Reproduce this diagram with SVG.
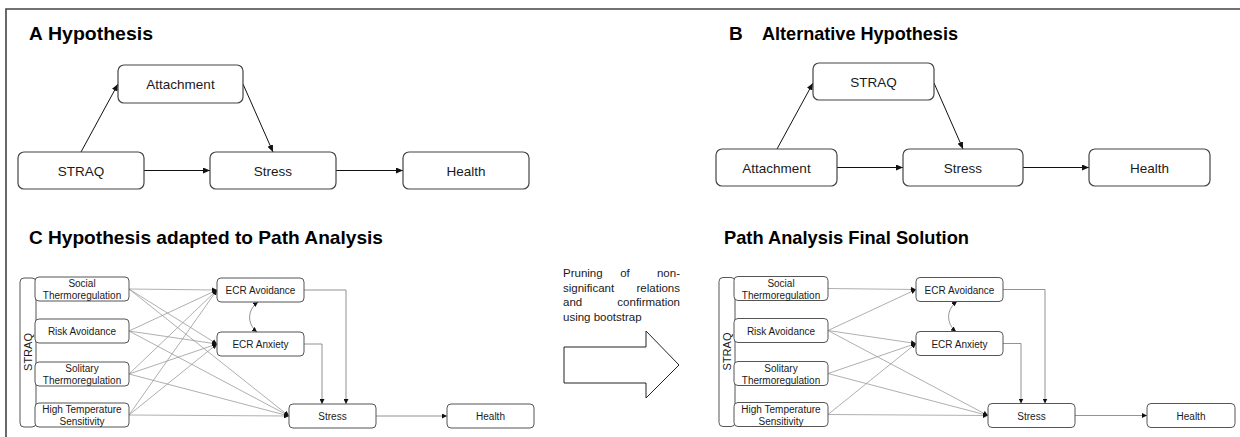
<svg xmlns="http://www.w3.org/2000/svg" width="1240" height="437" viewBox="0 0 1240 437">
<style>
text{font-family:"Liberation Sans",Arial,sans-serif;fill:#1a1a1a}
.title{font-weight:bold;font-size:19px;fill:#000}
.nb{fill:#fff;stroke:#444;stroke-width:1.2}
.nt{font-size:13.5px;text-anchor:middle}
.sb{fill:#fff;stroke:#555;stroke-width:1}
.st{font-size:10px;text-anchor:middle}
.ab{fill:none;stroke:#111;stroke-width:1}
.cl{fill:none;stroke:#9a9a9a;stroke-width:0.8;marker-end:url(#ms)}
.ce{fill:none;stroke:#777;stroke-width:0.8;marker-end:url(#ms)}
.mt{font-size:11.5px}
</style>
<defs>
<marker id="ma" markerUnits="userSpaceOnUse" markerWidth="7" markerHeight="6" refX="7" refY="3" orient="auto"><path d="M0,0 L7,3 L0,6 z" fill="#111"/></marker>
<marker id="ms" markerUnits="userSpaceOnUse" markerWidth="5" markerHeight="5" refX="5" refY="2.5" orient="auto-start-reverse"><path d="M0,0 L5,2.5 L0,5 z" fill="#111"/></marker>
</defs>
<rect width="1240" height="437" fill="#fff"/>
<path d="M6,437 V9 H1240" fill="none" stroke="#444" stroke-width="1.6"/>

<!-- Titles -->
<text class="title" x="29" y="40">A</text>
<text class="title" x="48" y="40" textLength="105" lengthAdjust="spacingAndGlyphs">Hypothesis</text>
<text class="title" x="729" y="40">B</text>
<text class="title" x="762" y="40" textLength="196" lengthAdjust="spacingAndGlyphs">Alternative Hypothesis</text>
<text class="title" x="29" y="244">C</text>
<text class="title" x="48" y="244" textLength="335" lengthAdjust="spacingAndGlyphs">Hypothesis adapted to Path Analysis</text>
<text class="title" x="724" y="244" textLength="245" lengthAdjust="spacingAndGlyphs">Path Analysis Final Solution</text>

<!-- Panel A -->
<g id="connectors-A">
<path class="ab" d="M81,152 L118,84" marker-end="url(#ma)"/>
<path class="ab" d="M243,84 L273,152" marker-end="url(#ma)"/>
<path class="ab" d="M144,170.5 H210" marker-end="url(#ma)"/>
<path class="ab" d="M336,170.5 H403" marker-end="url(#ma)"/>
</g>
<g id="a-attachment"><rect class="nb" x="118" y="65" width="125" height="38" rx="6"/><text class="nt" x="180.5" y="89">Attachment</text></g>
<g id="a-straq"><rect class="nb" x="18" y="152" width="126" height="37" rx="6"/><text class="nt" x="81" y="175.5">STRAQ</text></g>
<g id="a-stress"><rect class="nb" x="210" y="152" width="126" height="37" rx="6"/><text class="nt" x="273" y="175.5">Stress</text></g>
<g id="a-health"><rect class="nb" x="403" y="152" width="126" height="37" rx="6"/><text class="nt" x="466" y="175.5">Health</text></g>

<!-- Panel B -->
<g id="connectors-B">
<path class="ab" d="M777,149 L813,83" marker-end="url(#ma)"/>
<path class="ab" d="M934,83 L963,149" marker-end="url(#ma)"/>
<path class="ab" d="M837,167.5 H903" marker-end="url(#ma)"/>
<path class="ab" d="M1023,167.5 H1089" marker-end="url(#ma)"/>
</g>
<g id="b-straq"><rect class="nb" x="813" y="63" width="121" height="37" rx="6"/><text class="nt" x="873.5" y="86.5">STRAQ</text></g>
<g id="b-attachment"><rect class="nb" x="716" y="149" width="121" height="37" rx="6"/><text class="nt" x="776.5" y="172.5">Attachment</text></g>
<g id="b-stress"><rect class="nb" x="903" y="149" width="120" height="37" rx="6"/><text class="nt" x="963" y="172.5">Stress</text></g>
<g id="b-health"><rect class="nb" x="1089" y="149" width="121" height="37" rx="6"/><text class="nt" x="1149.5" y="172.5">Health</text></g>

<!-- Panel C -->
<g id="connectors-C">
<path class="cl" d="M129,289 L217,290"/>
<path class="cl" d="M129,289 L217,344"/>
<path class="cl" d="M129,289 L289,416"/>
<path class="cl" d="M129,331 L217,290"/>
<path class="cl" d="M129,331 L217,344"/>
<path class="cl" d="M129,331 L289,416"/>
<path class="cl" d="M129,374 L217,290"/>
<path class="cl" d="M129,374 L217,344"/>
<path class="cl" d="M129,374 L289,416"/>
<path class="cl" d="M129,415 L217,290"/>
<path class="cl" d="M129,415 L217,344"/>
<path class="cl" d="M129,415 L289,416"/>
<path class="ce" d="M304,290 H346 V404"/>
<path class="ce" d="M304,344 H322 V404"/>
<path class="ce" d="M258,302 C247,310 247,324 257,332" marker-start="url(#ms)"/>
<path class="ce" d="M376,416 H447"/>
</g>
<g id="c-straq"><rect class="sb" x="20" y="278" width="16" height="149" rx="4"/><text x="0" y="0" font-size="11" text-anchor="middle" transform="translate(31.5,352) rotate(-90)">STRAQ</text></g>
<g id="c-social"><rect class="sb" x="35" y="277" width="94" height="24" rx="4"/><text class="st" x="82" y="287">Social</text><text class="st" x="82" y="299">Thermoregulation</text></g>
<g id="c-risk"><rect class="sb" x="35" y="319" width="94" height="24" rx="4"/><text class="st" x="82" y="335">Risk Avoidance</text></g>
<g id="c-solitary"><rect class="sb" x="35" y="362" width="94" height="24" rx="4"/><text class="st" x="82" y="372">Solitary</text><text class="st" x="82" y="384">Thermoregulation</text></g>
<g id="c-hts"><rect class="sb" x="35" y="403" width="94" height="24" rx="4"/><text class="st" x="82" y="413">High Temperature</text><text class="st" x="82" y="425">Sensitivity</text></g>
<g id="c-ecrav"><rect class="sb" x="217" y="278" width="87" height="24" rx="4"/><text class="st" x="260.5" y="294">ECR Avoidance</text></g>
<g id="c-ecranx"><rect class="sb" x="217" y="332" width="87" height="24" rx="4"/><text class="st" x="260.5" y="348">ECR Anxiety</text></g>
<g id="c-stress"><rect class="sb" x="289" y="404" width="87" height="24" rx="4"/><text class="st" x="332.5" y="420">Stress</text></g>
<g id="c-health"><rect class="sb" x="447" y="404" width="87" height="24" rx="4"/><text class="st" x="490.5" y="420">Health</text></g>

<!-- Middle transition -->
<g id="pruning-arrow">
<text class="mt" x="563" y="277">Pruning</text>
<text class="mt" x="625" y="277" text-anchor="middle">of</text>
<text class="mt" x="680" y="277" text-anchor="end">non-</text>
<text class="mt" x="563" y="291.5">significant</text>
<text class="mt" x="680" y="291.5" text-anchor="end">relations</text>
<text class="mt" x="563" y="306">and</text>
<text class="mt" x="680" y="306" text-anchor="end">confirmation</text>
<text class="mt" x="563" y="320.5">using bootstrap</text>
<polygon points="564,347 646,347 646,331 679,365 646,398 646,383 564,383" fill="#fff" stroke="#222" stroke-width="1"/>
</g>

<!-- Final solution panel -->
<g transform="translate(699,-0.5)">
<g id="connectors-F">
<path class="cl" d="M129,289 L217,290"/>
<path class="cl" d="M129,331 L217,290"/>
<path class="cl" d="M129,331 L217,344"/>
<path class="cl" d="M129,331 L289,416"/>
<path class="cl" d="M129,374 L217,344"/>
<path class="cl" d="M129,374 L289,416"/>
<path class="cl" d="M129,415 L217,344"/>
<path class="cl" d="M129,415 L289,416"/>
<path class="ce" d="M304,290 H346 V404"/>
<path class="ce" d="M304,344 H322 V404"/>
<path class="ce" d="M258,302 C247,310 247,324 257,332" marker-start="url(#ms)"/>
<path class="ce" d="M376,416 H448"/>
</g>
<g id="f-straq"><rect class="sb" x="20" y="278" width="16" height="149" rx="4"/><text x="0" y="0" font-size="11" text-anchor="middle" transform="translate(31.5,352) rotate(-90)">STRAQ</text></g>
<g id="f-social"><rect class="sb" x="35" y="277" width="94" height="24" rx="4"/><text class="st" x="82" y="287">Social</text><text class="st" x="82" y="299">Thermoregulation</text></g>
<g id="f-risk"><rect class="sb" x="35" y="319" width="94" height="24" rx="4"/><text class="st" x="82" y="335">Risk Avoidance</text></g>
<g id="f-solitary"><rect class="sb" x="35" y="362" width="94" height="24" rx="4"/><text class="st" x="82" y="372">Solitary</text><text class="st" x="82" y="384">Thermoregulation</text></g>
<g id="f-hts"><rect class="sb" x="35" y="403" width="94" height="24" rx="4"/><text class="st" x="82" y="413">High Temperature</text><text class="st" x="82" y="425">Sensitivity</text></g>
<g id="f-ecrav"><rect class="sb" x="217" y="278" width="87" height="24" rx="4"/><text class="st" x="260.5" y="294">ECR Avoidance</text></g>
<g id="f-ecranx"><rect class="sb" x="217" y="332" width="87" height="24" rx="4"/><text class="st" x="260.5" y="348">ECR Anxiety</text></g>
<g id="f-stress"><rect class="sb" x="289" y="404" width="87" height="24" rx="4"/><text class="st" x="332.5" y="420">Stress</text></g>
<g id="f-health"><rect class="sb" x="448" y="404" width="88" height="24" rx="4"/><text class="st" x="492" y="420">Health</text></g>
</g>
</svg>
